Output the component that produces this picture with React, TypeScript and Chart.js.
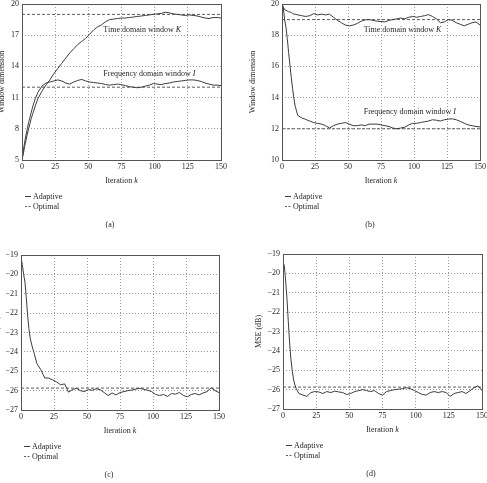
import React, { useEffect, useRef } from "react";
import { Chart, registerables } from "chart.js";

Chart.register(...registerables);

// ---------------- data ----------------
const iterations = [
  0, 1, 2, 3, 4, 5, 6, 7, 8, 9, 10,
  12, 15, 18, 21, 24, 27, 30, 33, 36, 39,
  42, 45, 48, 51, 54, 57, 60, 63, 66, 69,
  72, 75, 78, 81, 84, 87, 90, 93, 96, 99,
  102, 105, 108, 111, 114, 117, 120, 123, 126, 129,
  132, 135, 138, 141, 144, 147, 150,
];

// (a) window dimensions
const aTimeK = [
  5.0, 5.6, 6.3, 6.9, 7.5, 8.0, 8.5, 9.0, 9.4, 9.8, 10.2,
  10.9, 11.6, 12.2, 12.7, 13.3, 13.8, 14.3, 14.8, 15.3, 15.7,
  16.1, 16.4, 16.7, 17.1, 17.5, 17.8, 18.0, 18.3, 18.5, 18.55,
  18.6, 18.65, 18.65, 18.7, 18.75, 18.8, 18.85, 18.9, 18.95, 19.0,
  19.05, 19.1, 19.2, 19.15, 19.05, 19.0, 18.95, 18.9, 18.95, 18.9,
  18.85, 18.75, 18.65, 18.6, 18.7, 18.7, 18.65,
];
const aFreqI = [
  5.0, 5.9, 6.7, 7.4, 8.0, 8.6, 9.1, 9.6, 10.1, 10.5, 10.9,
  11.5, 12.1, 12.4, 12.5, 12.6, 12.7, 12.6, 12.4, 12.3, 12.5,
  12.65, 12.75, 12.6, 12.5, 12.45, 12.4, 12.35, 12.25, 12.2, 12.25,
  12.3, 12.25, 12.15, 12.05, 12.0, 11.95, 12.0, 12.1, 12.2, 12.35,
  12.3, 12.25, 12.35, 12.4, 12.5, 12.55, 12.6, 12.65, 12.7, 12.7,
  12.65, 12.55, 12.4, 12.3, 12.2, 12.2, 12.15,
];

// (b) window dimensions
const bTimeK = [
  20.0, 19.8, 19.65, 19.6, 19.55, 19.5, 19.5, 19.45, 19.4, 19.35, 19.35,
  19.3, 19.25, 19.2, 19.25, 19.38, 19.3, 19.35, 19.3, 19.35, 19.15,
  18.95, 18.8, 18.65, 18.6, 18.65, 18.75, 18.9, 18.98, 19.0, 18.95,
  18.9, 18.88, 18.85, 18.95, 19.0, 19.05, 19.1, 19.05, 19.15, 19.2,
  19.15, 19.2, 19.25, 19.32, 19.2, 19.05, 18.8, 18.85, 19.0, 18.95,
  18.8, 18.7, 18.6, 18.7, 18.8, 18.85, 18.65,
];
const bFreqI = [
  20.0, 19.75, 19.0, 18.5, 17.8, 16.9, 16.1, 15.3, 14.6, 13.95, 13.45,
  12.85, 12.7, 12.6, 12.5, 12.4, 12.35, 12.3, 12.2, 12.05, 12.2,
  12.3, 12.35, 12.4, 12.3, 12.2, 12.2, 12.25, 12.2, 12.3, 12.3,
  12.3, 12.25, 12.2, 12.15, 12.05, 12.0, 12.05, 12.1, 12.25, 12.35,
  12.35, 12.4, 12.45, 12.5, 12.58, 12.55, 12.5, 12.58, 12.62, 12.64,
  12.58, 12.48, 12.36, 12.25, 12.2, 12.15, 12.12,
];

// (c) MSE (dB)
const cMse = [
  -19.1, -19.5, -20.0, -20.4, -21.2, -22.1, -22.8, -23.3, -23.6, -23.85, -24.08,
  -24.6, -24.92, -25.35, -25.35, -25.45, -25.55, -25.7, -25.65, -26.08, -25.95,
  -25.88, -26.0, -26.05, -25.95, -25.98, -25.9, -25.95, -26.1, -26.25, -26.12,
  -26.22, -26.1, -26.05, -26.0, -25.97, -25.92, -25.88, -25.93, -25.98, -26.05,
  -26.2, -26.25, -26.2, -26.3, -26.15, -26.18, -26.1, -26.25, -26.32, -26.2,
  -26.15, -26.22, -26.12, -26.05, -25.85, -26.0, -26.1,
];

// (d) MSE (dB)
const dMse = [
  -19.4, -19.6, -20.4, -21.3, -22.5, -23.6, -24.45, -25.05, -25.5, -25.76, -25.95,
  -26.2, -26.28, -26.35, -26.15, -26.1, -26.12, -26.2, -26.1, -26.15, -26.08,
  -26.12, -26.15, -26.25, -26.2, -26.1, -26.05, -26.0, -26.05, -26.1, -26.05,
  -26.2, -26.28, -26.1, -26.05, -26.0, -25.98, -25.95, -25.9, -25.95, -26.05,
  -26.15, -26.25, -26.28, -26.15, -26.1, -26.15, -26.1, -26.15, -26.35, -26.2,
  -26.15, -26.1, -26.2, -26.05, -25.9, -25.8, -26.05,
];

const optimalK = 19;
const optimalI = 12;
const optimalMse = -25.87;

const xTicks = [0, 25, 50, 75, 100, 125, 150];
const windowTicksA = [5, 8, 11, 14, 17, 20];
const windowTicksB = [10, 12, 14, 16, 18, 20];
const mseTicks = [-27, -26, -25, -24, -23, -22, -21, -20, -19];

const legendLabels = ["Adaptive", "Optimal"];

// ---------------- styling ----------------
const FONT = '"Liberation Serif", "Times New Roman", serif';
const TEXT = "#262626";
const LINE = "#3c3c3c";
const OPT = "#4a4a4a";
const GRID = "#9a9a9a";
const FRAME = "#555555";

type Part = [string, boolean];
type Note = { k: number; v: number; parts: Part[] };
type PanelSpec = {
  id: string;
  box: { x: number; y: number; w: number; h: number };
  pad: { left: number; right: number; top: number; bottom: number };
  yWidth: number;
  yTitle: string;
  yMin: number;
  yMax: number;
  yTicks: number[];
  adaptive: number[][];
  optimal: number[];
  notes: Note[];
  caption: string;
};

const panels: PanelSpec[] = [
  {
    id: "a",
    box: { x: -10, y: 0, w: 253, h: 240 },
    pad: { left: 7, right: 22, top: 4, bottom: 60 },
    yWidth: 25,
    yTitle: "Window dimension",
    yMin: 5,
    yMax: 20,
    yTicks: windowTicksA,
    adaptive: [aTimeK, aFreqI],
    optimal: [optimalK, optimalI],
    notes: [
      { k: 61.3, v: 17.34, parts: [["Time domain window ", false], ["K", true]] },
      { k: 61.3, v: 13.08, parts: [["Frequency domain window ", false], ["I", true]] },
    ],
    caption: "(a)",
  },
  {
    id: "b",
    box: { x: 243, y: 0, w: 254, h: 240 },
    pad: { left: 5, right: 17, top: 4, bottom: 60 },
    yWidth: 34,
    yTitle: "Window dimension",
    yMin: 10,
    yMax: 20,
    yTicks: windowTicksB,
    adaptive: [bTimeK, bFreqI],
    optimal: [optimalK, optimalI],
    notes: [
      { k: 61.9, v: 18.22, parts: [["Time domain window ", false], ["K", true]] },
      { k: 61.9, v: 12.95, parts: [["Frequency domain window ", false], ["I", true]] },
    ],
    caption: "(b)",
  },
  {
    id: "c",
    box: { x: -10, y: 240, w: 253, h: 243 },
    pad: { left: 2, right: 24, top: 15, bottom: 53 },
    yWidth: 29,
    yTitle: "MSE (dB)",
    yMin: -27,
    yMax: -19,
    yTicks: mseTicks,
    adaptive: [cMse],
    optimal: [optimalMse],
    notes: [],
    caption: "(c)",
  },
  {
    id: "d",
    box: { x: 243, y: 240, w: 254, h: 243 },
    pad: { left: 11, right: 15, top: 14, bottom: 54 },
    yWidth: 29,
    yTitle: "MSE (dB)",
    yMin: -27,
    yMax: -19,
    yTicks: mseTicks,
    adaptive: [dMse],
    optimal: [optimalMse],
    notes: [],
    caption: "(d)",
  },
];

function fontOf(italic: boolean, size = 8) {
  return `${italic ? "italic " : ""}${size}px ${FONT}`;
}

function drawParts(
  ctx: CanvasRenderingContext2D,
  parts: Part[],
  x: number,
  y: number,
  align: "left" | "center"
) {
  let total = 0;
  const widths = parts.map(([t, it]) => {
    ctx.font = fontOf(it);
    const w = ctx.measureText(t).width;
    total += w;
    return w;
  });
  let cx = align === "center" ? x - total / 2 : x;
  ctx.textAlign = "left";
  parts.forEach(([t, it], i) => {
    ctx.font = fontOf(it);
    ctx.fillText(t, cx, y);
    cx += widths[i];
  });
}

const decoPlugin = {
  id: "deco",
  afterDraw(chart: any, _args: any, opts: any) {
    const { ctx, chartArea: a, scales } = chart;
    ctx.save();
    // frame
    ctx.setLineDash([]);
    ctx.strokeStyle = FRAME;
    ctx.lineWidth = 1;
    ctx.strokeRect(a.left + 0.5, a.top + 0.5, a.right - a.left, a.bottom - a.top);

    ctx.fillStyle = TEXT;
    // notes
    ctx.textBaseline = "alphabetic";
    (opts.notes || []).forEach((n: Note) => {
      const x = scales.x.getPixelForValue(n.k);
      const y = scales.y.getPixelForValue(n.v);
      drawParts(ctx, n.parts, x, y, "left");
    });

    // x-axis title
    drawParts(
      ctx,
      [
        ["Iteration ", false],
        ["k", true],
      ],
      (a.left + a.right) / 2,
      a.bottom + 23,
      "center"
    );

    // legend
    ctx.textBaseline = "middle";
    legendLabels.forEach((label, i) => {
      const y = Math.round(a.bottom + 36.2 + i * 9.5) + 0.5;
      ctx.beginPath();
      ctx.strokeStyle = i === 0 ? LINE : OPT;
      ctx.lineWidth = i === 0 ? 1 : 0.9;
      ctx.setLineDash(i === 0 ? [] : [2, 1.5]);
      ctx.moveTo(a.left + 3, y);
      ctx.lineTo(a.left + 9, y);
      ctx.stroke();
      ctx.setLineDash([]);
      ctx.font = fontOf(false);
      ctx.textAlign = "left";
      ctx.fillText(label, a.left + 11, y);
    });

    // caption
    ctx.font = fontOf(false);
    ctx.textAlign = "center";
    ctx.textBaseline = "middle";
    ctx.fillText(opts.caption, a.left + 88, a.bottom + 64.5);
    ctx.restore();
  },
};

function fmtTick(v: number) {
  return v < 0 ? "\u2212" + Math.abs(v) : String(v);
}

function buildConfig(p: PanelSpec): any {
  const datasets: any[] = [];
  p.adaptive.forEach((series, si) => {
    datasets.push({
      label: legendLabels[0] + " " + si,
      data: iterations.map((k, i) => ({ x: k, y: series[i] })),
      borderColor: LINE,
      borderWidth: 1,
      pointRadius: 0,
      fill: false,
      tension: 0,
    });
  });
  p.optimal.forEach((v, si) => {
    datasets.push({
      label: legendLabels[1] + " " + si,
      data: [
        { x: iterations[0], y: v },
        { x: iterations[iterations.length - 1], y: v },
      ],
      borderColor: OPT,
      borderWidth: 0.9,
      borderDash: [3, 2],
      pointRadius: 0,
      fill: false,
      tension: 0,
    });
  });

  const tickFont = { family: FONT, size: 8 };
  return {
    type: "line",
    data: { datasets },
    options: {
      responsive: false,
      animation: false,
      devicePixelRatio: 1,
      events: [],
      layout: { padding: p.pad, autoPadding: false },
      plugins: {
        legend: { display: false },
        tooltip: { enabled: false },
        deco: { notes: p.notes, caption: p.caption },
      },
      scales: {
        x: {
          type: "linear",
          min: 0,
          max: 150,
          afterBuildTicks: (s: any) => {
            s.ticks = xTicks.map((v) => ({ value: v }));
          },
          afterFit: (s: any) => {
            s.height = 20;
            s.paddingLeft = 0;
            s.paddingRight = 0;
          },
          grid: { color: GRID, lineWidth: 1, drawTicks: false },
          border: { display: false, dash: [1, 2] },
          ticks: {
            padding: 2.5,
            font: tickFont,
            color: TEXT,
            maxRotation: 0,
            autoSkip: false,
            callback: (v: number) => fmtTick(v),
          },
        },
        y: {
          type: "linear",
          min: p.yMin,
          max: p.yMax,
          afterBuildTicks: (s: any) => {
            s.ticks = p.yTicks.map((v) => ({ value: v }));
          },
          afterFit: (s: any) => {
            s.width = p.yWidth;
            s.paddingTop = 0;
            s.paddingBottom = 0;
          },
          grid: { color: GRID, lineWidth: 1, drawTicks: false },
          border: { display: false, dash: [1, 2] },
          title: {
            display: true,
            text: p.yTitle,
            padding: 0,
            font: tickFont,
            color: TEXT,
          },
          ticks: {
            padding: 3,
            font: tickFont,
            color: TEXT,
            autoSkip: false,
            callback: (v: number) => fmtTick(v),
          },
        },
      },
    },
    plugins: [decoPlugin],
  };
}

function PanelChart({ spec }: { spec: PanelSpec }) {
  const ref = useRef<HTMLCanvasElement | null>(null);
  useEffect(() => {
    if (!ref.current) return;
    const chart = new Chart(ref.current, buildConfig(spec));
    return () => chart.destroy();
  }, [spec]);
  return (
    <canvas
      ref={ref}
      width={spec.box.w}
      height={spec.box.h}
      style={{
        position: "absolute",
        left: spec.box.x,
        top: spec.box.y,
        width: spec.box.w,
        height: spec.box.h,
        display: "block",
      }}
    />
  );
}

export default function App() {
  return (
    <div
      style={{
        position: "absolute",
        left: 0,
        top: 0,
        width: 487,
        height: 483,
        overflow: "hidden",
        background: "#ffffff",
      }}
    >
      {panels.map((p) => (
        <PanelChart key={p.id} spec={p} />
      ))}
    </div>
  );
}
